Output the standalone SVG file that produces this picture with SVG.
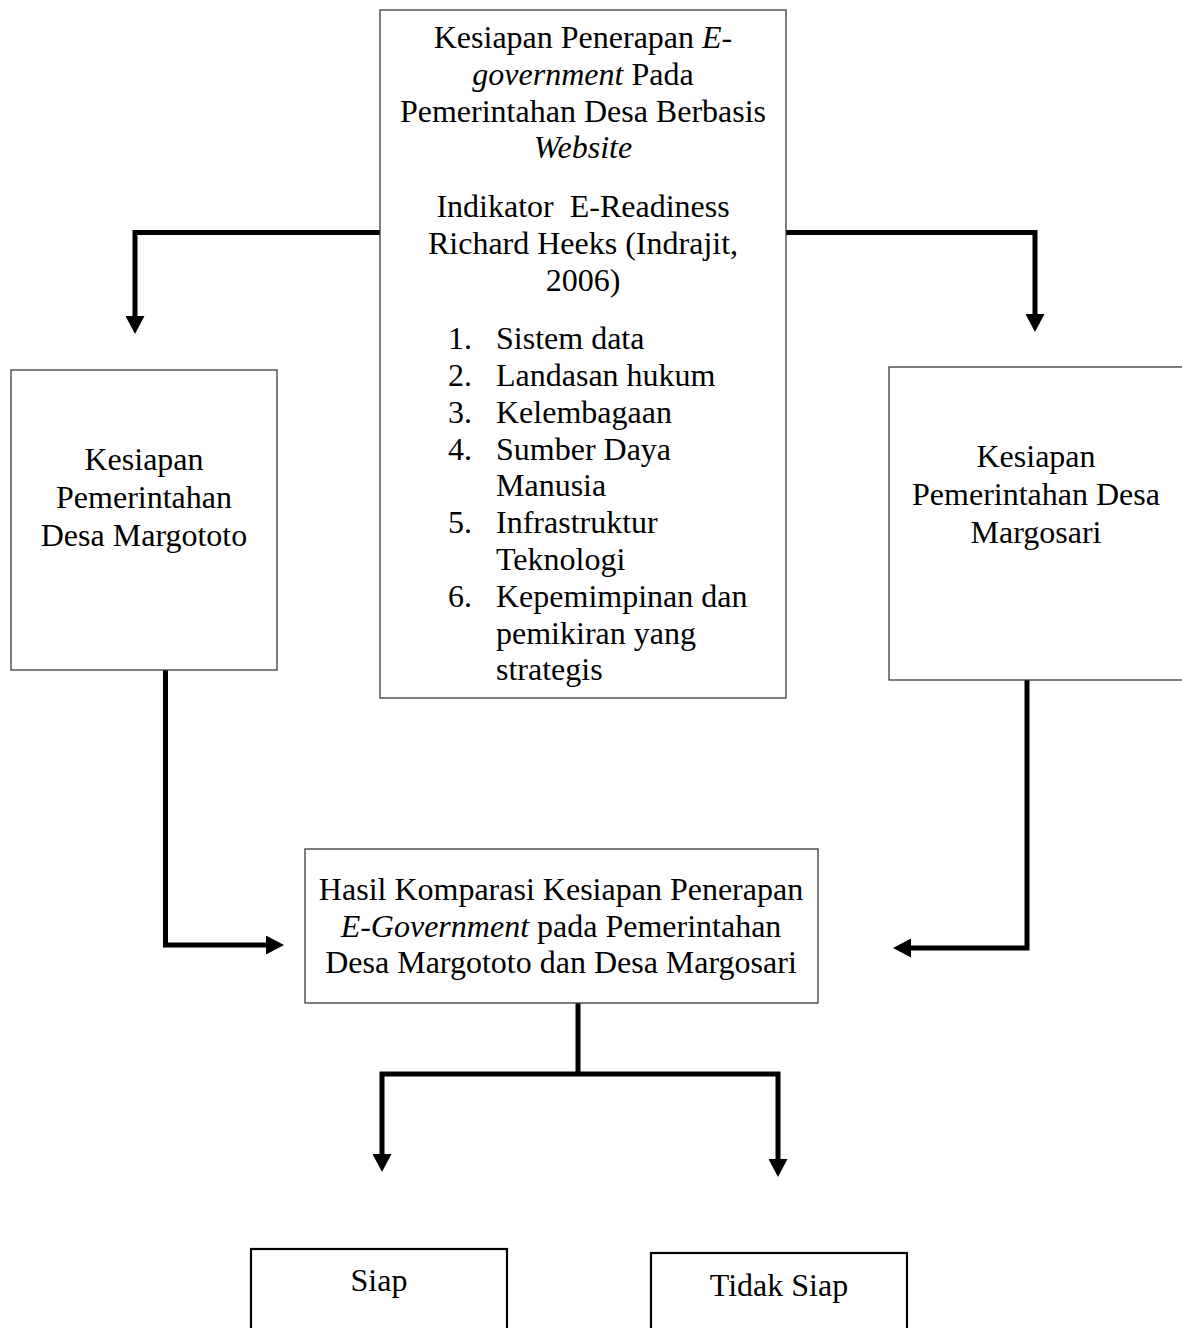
<svg xmlns="http://www.w3.org/2000/svg" width="1182" height="1328" viewBox="0 0 1182 1328">
<style>
  .box { fill: #ffffff; stroke: #3a3a3a; stroke-width: 1.3; }
  .box2 { fill: #ffffff; stroke: #000000; stroke-width: 2.2; }
  .t { font-family: "Liberation Serif", "Times New Roman", serif; font-size: 32px; fill: #000000; }
  .c { text-anchor: middle; }
  .i { font-style: italic; }
  .conn { fill: none; stroke: #000000; stroke-width: 5; stroke-linejoin: miter; stroke-linecap: butt; }
</style>
<defs>
  <marker id="arrow" markerUnits="userSpaceOnUse" viewBox="0 0 18 19" refX="1" refY="9.5" markerWidth="18" markerHeight="19" orient="auto">
    <path d="M0,0 L18,9.5 L0,19 z" fill="#000000"/>
  </marker>
</defs>
<rect width="1182" height="1328" fill="#ffffff"/>

<g id="connectors">
  <path class="conn" d="M380,232.5 H135 V317" marker-end="url(#arrow)"/>
  <path class="conn" d="M786,232.5 H1035 V315" marker-end="url(#arrow)"/>
  <path class="conn" d="M165.5,670 V945 H267" marker-end="url(#arrow)"/>
  <path class="conn" d="M1027,680 V948 H910" marker-end="url(#arrow)"/>
  <path class="conn" d="M578,1003 V1074"/>
  <path class="conn" d="M578,1074 H382 V1155" marker-end="url(#arrow)"/>
  <path class="conn" d="M578,1074 H778 V1160" marker-end="url(#arrow)"/>
</g>

<g id="node-main">
  <rect class="box" x="380" y="10" width="406" height="688"/>
  <text class="t c" x="583" y="48">Kesiapan Penerapan <tspan class="i">E-</tspan></text>
  <text class="t c" x="583" y="85"><tspan class="i">government</tspan> Pada</text>
  <text class="t c" x="583" y="122">Pemerintahan Desa Berbasis</text>
  <text class="t c i" x="583" y="158">Website</text>
  <text class="t c" x="583" y="217" xml:space="preserve">Indikator  E-Readiness</text>
  <text class="t c" x="583" y="254">Richard Heeks (Indrajit,</text>
  <text class="t c" x="583" y="291">2006)</text>
  <text class="t" x="448" y="349">1.</text><text class="t" x="496" y="349">Sistem data</text>
  <text class="t" x="448" y="386">2.</text><text class="t" x="496" y="386">Landasan hukum</text>
  <text class="t" x="448" y="423">3.</text><text class="t" x="496" y="423">Kelembagaan</text>
  <text class="t" x="448" y="460">4.</text><text class="t" x="496" y="460">Sumber Daya</text>
  <text class="t" x="496" y="496">Manusia</text>
  <text class="t" x="448" y="533">5.</text><text class="t" x="496" y="533">Infrastruktur</text>
  <text class="t" x="496" y="570">Teknologi</text>
  <text class="t" x="448" y="607">6.</text><text class="t" x="496" y="607">Kepemimpinan dan</text>
  <text class="t" x="496" y="644">pemikiran yang</text>
  <text class="t" x="496" y="680">strategis</text>
</g>

<g id="node-margototo">
  <rect class="box" x="11" y="370" width="266" height="300"/>
  <text class="t c" x="144" y="470">Kesiapan</text>
  <text class="t c" x="144" y="508">Pemerintahan</text>
  <text class="t c" x="144" y="546">Desa Margototo</text>
</g>

<g id="node-margosari">
  <rect class="box" x="889" y="367" width="300" height="313"/>
  <text class="t c" x="1036" y="467">Kesiapan</text>
  <text class="t c" x="1036" y="505">Pemerintahan Desa</text>
  <text class="t c" x="1036" y="543">Margosari</text>
</g>

<g id="node-hasil">
  <rect class="box" x="305" y="849" width="513" height="154"/>
  <text class="t c" x="561" y="900">Hasil Komparasi Kesiapan Penerapan</text>
  <text class="t c" x="561" y="937"><tspan class="i">E-Government</tspan> pada Pemerintahan</text>
  <text class="t c" x="561" y="973">Desa Margototo dan Desa Margosari</text>
</g>

<g id="node-siap">
  <rect class="box2" x="251" y="1249" width="256" height="100"/>
  <text class="t c" x="379" y="1291" font-size="31">Siap</text>
</g>

<g id="node-tidak-siap">
  <rect class="box2" x="651" y="1253" width="256" height="100"/>
  <text class="t c" x="779" y="1296" font-size="31">Tidak Siap</text>
</g>
</svg>
